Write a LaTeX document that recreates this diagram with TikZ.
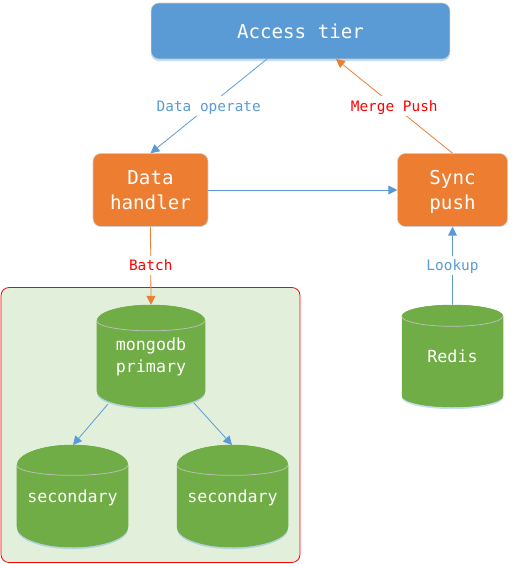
\documentclass[tikz,border=0pt]{standalone}
\usepackage{fontspec}
\setmainfont{DejaVu Sans Mono}
\usetikzlibrary{arrows.meta,shapes.geometric,shadows}
\definecolor{tierblue}{HTML}{5B9BD5}
\definecolor{boxorange}{HTML}{ED7D31}
\definecolor{dbgreen}{HTML}{70AD47}
\definecolor{groupgreen}{HTML}{E2EFDA}
\tikzset{
  softshadow/.style={drop shadow={shadow xshift=0pt,shadow yshift=-1.2pt,fill=tierblue,opacity=0.35}},
  tierbox/.style={rectangle,rounded corners=4.5pt,fill=#1,draw=black!20,line width=0.3pt,text=white,
    align=center,inner sep=0pt,font=\fontsize{10.9}{14.4}\selectfont},
  dbstore/.style={cylinder,shape border rotate=90,aspect=0.45,anchor=shape center,fill=dbgreen,draw=dbgreen,line width=0.3pt,
    cylinder uses custom fill,cylinder body fill=dbgreen,cylinder end fill=dbgreen,
    text=white,align=center,inner sep=0pt,softshadow,font=\fontsize{9.5}{12.4}\selectfont,
    execute at end node={\rule[-#1]{0pt}{0pt}}},
  toparc/.style={draw=black!25!white,line width=0.4pt},
  bluelink/.style={draw=tierblue,line width=0.45pt,-{Triangle[length=5pt,width=5pt]}},
  orangelink/.style={draw=boxorange,line width=0.45pt,-{Triangle[length=5pt,width=5pt]}},
  linklabel/.style={midway,fill=white,inner xsep=1pt,inner ysep=1pt,text height=7.4pt,text depth=1.6pt,font=\fontsize{8.2}{10}\selectfont}
}
\begin{document}
\begin{tikzpicture}[x=0.02cm,y=-0.02cm]
    \useasboundingbox (0,0) rectangle (514,564);
    \node[rectangle,rounded corners=4.5pt,draw=red,fill=groupgreen,line width=0.45pt,
      minimum width=5.98cm,minimum height=5.5cm] (replica) at (150.5,425) {};

    \node[tierbox=tierblue,softshadow,minimum width=5.98cm,minimum height=1.12cm] (access) at (300.5,31) {Access tier};
    \node[tierbox=boxorange,minimum width=2.3cm,minimum height=1.46cm] (handler) at (150.5,190) {Data\\handler};
    \node[tierbox=boxorange,minimum width=2.2cm,minimum height=1.46cm] (sync) at (452.5,190) {\rule{0pt}{.96em}Sync\\push};

    \node[dbstore=9.8pt,minimum width=2.16cm,minimum height=2.04cm] (primary) at (151,356) {mongodb\\primary};
    \node[dbstore=11.5pt,minimum width=2.22cm,minimum height=2.04cm] (secleft) at (72.5,496) {secondary};
    \node[dbstore=11.5pt,minimum width=2.22cm,minimum height=2.04cm] (secright) at (232.5,496) {secondary};
    \node[dbstore=6pt,minimum width=2.02cm,minimum height=2.04cm] (redis) at (452.5,356) {Redis};

    \foreach \dbname/\dbrad in {primary/54,secleft/55.5,secright/55.5,redis/50.5}
      \draw[toparc] (\dbname.before top) arc[start angle=180,end angle=360,x radius=\dbrad,y radius=-10];

    \coordinate (accessout) at (267,59);
    \coordinate (accessin) at (336,59);
    \coordinate (primaryleft) at (108,404);
    \coordinate (primaryright) at (194,403);
    \coordinate (secleftin) at (73,445);
    \coordinate (secrightin) at (232,445);

    \draw[bluelink] (accessout) -- (handler.north) node[linklabel,text=tierblue] {Data operate};
    \draw[orangelink] (sync.north) -- (accessin) node[linklabel,text=red] {Merge Push};
    \draw[bluelink] (handler.east) -- (sync.west);
    \draw[orangelink] (handler.south) -- (primary.north) node[linklabel,text=red] {Batch};
    \draw[bluelink] (redis.north) -- (sync.south) node[linklabel,text=tierblue] {Lookup};
    \draw[bluelink] (primaryleft) -- (secleftin);
    \draw[bluelink] (primaryright) -- (secrightin);
  \end{tikzpicture}
\end{document}
